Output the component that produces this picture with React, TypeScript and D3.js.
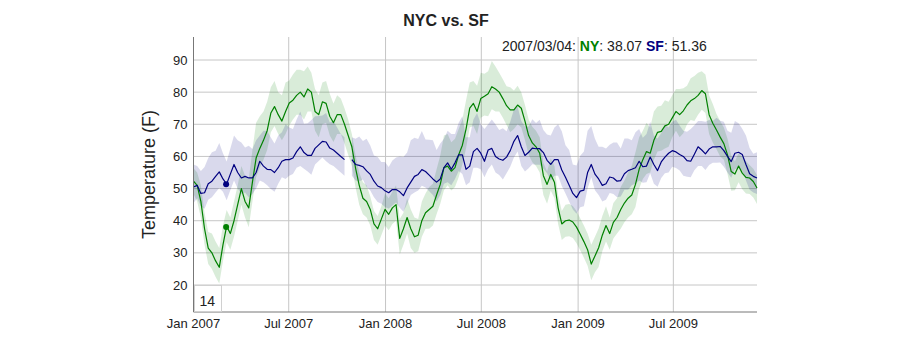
import React from 'react'
import * as d3 from 'd3'

// weekly samples, starting Jan 1 2007
const startDate = new Date(2007, 0, 1)

const nyMean = [
  52.3, 51, 46, 37.5, 31.5, 30, 27.5, 25.5, 32.5, 38.3, 36, 40, 45, 50, 46, 44, 52, 59.5, 62.5, 65, 68, 73.5, 75.5, 73, 71, 74,
  76.6, 77.5, 79, 80, 78.5, 81, 80, 74, 73, 77, 76.5, 72.5, 70.5, 73, 73, 70, 66.5, 63, 56.4, 51, 47, 46, 43.5, 39, 37.5,
  40.5, 43.5, 42, 44, 45, 34.5, 37.5, 41, 37.5, 35, 35.5, 40, 42.5, 43.5, 44.5, 48, 51.3, 56.5, 57, 55.4, 56.5, 60.5, 63.5,
  68.5, 75, 76.5, 74, 78, 78.7, 79.5, 81.7, 81, 80, 78, 75.8, 74.5, 74.5, 76, 75, 71, 66.5, 64.2, 63, 61, 54, 51.3, 54.4, 52,
  44, 39, 40,
  40.2, 39.6, 38, 35.8, 33.5, 31, 26.5, 29, 31.6, 35.5, 38.5, 36, 39.5, 41, 43.5, 45.5, 47, 48, 51.3, 56, 59, 61.5, 61, 65,
  67.5, 67.8, 69.5, 70, 72, 74, 73, 74.2, 76, 77.3, 78, 79, 80.5, 79.5, 73, 70.3, 68.2, 66, 64, 60.5, 55.3, 54.5, 57, 54.8,
  53.5, 53.3, 52.2, 50.2,
]
const nyHigh = [
  4, 4, 5, 5, 5, 6, 6, 6, 6, 5, 5, 6, 6, 7, 8, 9, 10, 11, 10, 9, 9, 8, 8,
  7, 8, 9, 7, 8, 8, 7, 8, 7, 6, 7, 6, 6, 7, 7, 6, 6, 5, 5, 5, 4, 4, 4, 5, 5, 4, 4, 4, 4, 5,
  5, 5, 6, 6, 5, 6, 6, 6, 5, 6, 6, 7, 7, 8, 9, 10, 10, 9, 9, 8, 8, 9,
  8, 7, 8, 8, 7, 7, 8, 7, 6, 6, 6, 7, 6, 6, 5, 5, 5, 5, 5, 5, 4, 4, 5, 5, 4, 4, 5, 5, 5, 5,
  5, 5, 5, 6, 6, 6, 6, 6, 5, 6, 6, 7, 7, 8, 9, 10, 10, 9, 9, 8, 9, 8,
  8, 8, 7, 7, 7, 8, 7, 6, 7, 7, 7, 6, 6, 6, 6, 5, 5, 5, 5, 5, 4, 4, 5, 5, 4, 4, 4,
]
const nyLow = [
  4, 5, 5, 5, 5, 5, 5, 5, 5, 5, 5, 5, 5, 5, 5, 6, 6, 6, 6, 6, 6, 6, 6,
  6, 6, 7, 7, 6, 6, 7, 7, 7, 6, 6, 7, 7, 6, 6, 6, 6, 6, 6, 6, 6, 6, 6, 5, 5, 5, 5, 5, 5, 5,
  5, 5, 5, 5, 5, 5, 6, 5, 5, 5, 5, 6, 6, 6, 6, 7, 6, 6, 6, 7, 6, 6,
  6, 7, 7, 6, 6, 7, 7, 7, 6, 6, 6, 7, 6, 6, 6, 6, 6, 6, 6, 6, 6, 6, 5, 5, 5, 5, 5, 5, 5, 5,
  5, 5, 5, 5, 5, 6, 5, 5, 5, 5, 5, 6, 6, 6, 6, 7, 6, 6, 7, 6, 6, 6,
  6, 7, 7, 6, 6, 7, 7, 6, 6, 7, 6, 6, 6, 6, 6, 6, 6, 5, 6, 6, 5, 5, 5, 5, 5, 5, 5,
]

const sfMean = [
  50.5, 51, 48.5, 48.7, 51.5, 52.3, 53.8, 55.2, 53, 51.4, 54.5, 57.5, 55, 53.3, 53.8, 53.3, 53.3, 55, 58.5, 57, 56, 55.9,
  55, 56.5, 58.5, 59, 59, 59.5, 61.5, 63, 61.2, 60.3, 60.3, 62.5, 63.6, 64.7, 64.5, 62.6, 62, 61, 60, 59, null, 59, 57.5,
  57.2, 56.8, 55.5, 54.4, 52.3, 50.8,
  50.3, 49.3, 48.7, 49.7, 49.7, 49, 47.8, 50.2, 52, 53.8, 54.4, 55.9, 55.3, 54.2, 53, 52, 53, 56.5, 58, 56, 58, 60.5, 60.5,
  56, 57, 61.5, 62.5, 61, 58.5, 62, 62.5, 60, 59.2, 58.8, 59.8, 61.8, 64.7, 66.5, 63, 60.3, 61.3, 62.6, 62.4, 62.4, 61.2,
  58.8, 57.5, 59, 59, 55.8, 53.5,
  51, 48.5, 47.2, 49.2, 49.5, 55, 57.5, 54.5, 53, 51, 51.5, 53.6, 53.3, 52.3, 52.5, 54.6, 55.6, 56, 56.5, 58.5, 56.8, 57,
  59.8, 57.5, 55.6, 58.3, 59.8, 61, 61.8, 61.4, 60.6, 60, 58.7, 58.5, 60.7, 63, 62, 60.8, 62.3, 63, 63, 63.1, 61.8, 60,
  58.4, 61, 61.3, 60.6, 57.5, 54.6, 53.8, 53.3,
]
const sfHigh = [
  7, 6, 7, 8, 8, 9, 8, 9, 8, 7, 8, 9, 10, 11, 9, 10, 9, 10, 8, 11, 12, 10, 9,
  10, 9, 11, 10, 9, 10, 11, 9, 10, 11, 10, 9, 8, 9, 8, 9, 8, 7, 7, 8, 7, 8, 9, 8, 10, 9, 8, 9, 8, 9,
  8, 9, 10, 11, 12, 11, 13, 12, 11, 12, 10, 11, 12, 10, 11, 9, 10, 11, 9, 10, 12, 10,
  9, 10, 11, 9, 10, 8, 9, 10, 9, 10, 8, 9, 10, 9, 8, 9, 8, 9, 8, 9, 7, 8, 9, 10, 11, 12, 10, 11, 9, 10,
  11, 12, 13, 12, 11, 10, 12, 11, 10, 11, 12, 10, 11, 10, 9, 11, 10, 9, 10, 11, 9, 10,
  9, 10, 8, 9, 10, 9, 8, 9, 10, 9, 8, 9, 10, 9, 8, 9, 8, 9, 8, 9, 10, 9, 8, 9, 8, 7, 8,
]
const sfLow = [
  5, 4, 4, 5, 5, 5, 5, 5, 4, 5, 5, 5, 5, 5, 5, 6, 5, 5, 6, 5, 5, 6, 6,
  5, 5, 6, 5, 5, 5, 6, 5, 5, 6, 5, 5, 5, 6, 5, 5, 5, 5, 5, 5, 5, 5, 5, 4, 5, 5, 5, 5, 5, 5,
  5, 5, 4, 5, 5, 5, 4, 5, 5, 5, 5, 5, 5, 6, 5, 5, 6, 5, 5, 5, 6, 5,
  5, 5, 6, 5, 5, 6, 5, 5, 5, 6, 5, 5, 5, 5, 6, 5, 5, 5, 5, 5, 5, 4, 5, 5, 5, 5, 5, 5, 5, 5,
  5, 5, 5, 4, 5, 5, 5, 5, 5, 5, 5, 5, 5, 6, 5, 5, 6, 5, 5, 5, 6, 5,
  5, 5, 6, 5, 5, 5, 6, 5, 5, 5, 6, 5, 5, 5, 5, 5, 5, 5, 5, 5, 5, 5, 5, 5, 5, 5, 5,
]

const yTicks = [20, 30, 40, 50, 60, 70, 80, 90]
const xTickDates = [
  new Date(2007, 0, 1), new Date(2007, 6, 1), new Date(2008, 0, 1),
  new Date(2008, 6, 1), new Date(2009, 0, 1), new Date(2009, 6, 1),
]
const xTickLabels = ['Jan 2007', 'Jul 2007', 'Jan 2008', 'Jul 2008', 'Jan 2009', 'Jul 2009']

const hlDate = new Date(2007, 2, 4)
const hlLabel = '2007/03/04'
const hlNY = 38.07
const hlSF = 51.36
const rollPeriod = 14

const NY_COLOR = '#008000'
const SF_COLOR = '#000080'
const FONT = '"Liberation Sans", Arial, Helvetica, sans-serif'

interface Pt { date: Date; v: number | null; up: number; dn: number }

function build(mean: (number | null)[], up: number[], dn: number[]): Pt[] {
  return mean.map((v, i) => ({
    date: d3.timeDay.offset(startDate, 7 * i),
    v,
    up: up[i] ?? 5,
    dn: dn[i] ?? 5,
  }))
}

export default function App() {
  const W = 900
  const H = 340
  const [top, right, bottom, left] = [37, 143, 312, 193.5]

  const x = d3.scaleTime().domain([startDate, new Date(2009, 11, 7)]).range([left, W - right])
  const y = d3.scaleLinear().domain([11.6, 97.16]).range([bottom, top])

  const ny = build(nyMean, nyHigh, nyLow)
  const sf = build(sfMean, sfHigh, sfLow)

  const band = d3.area<Pt>()
    .defined(d => d.v != null)
    .x(d => x(d.date))
    .y0(d => y((d.v as number) - d.dn))
    .y1(d => y((d.v as number) + d.up))

  const line = d3.line<Pt>()
    .defined(d => d.v != null)
    .x(d => x(d.date))
    .y(d => y(d.v as number))

  return (
    <div style={{ position: 'absolute', left: 0, top: 0 }}>
      <svg width={W} height={H} style={{ display: 'block', background: '#fff', fontFamily: FONT }}>
        {/* grid */}
        {yTicks.map(t => (
          <line key={'gy' + t} x1={left} x2={W - right} y1={y(t)} y2={y(t)} stroke="#c6c6c6" strokeWidth={1} />
        ))}
        {xTickDates.map((d, i) => (
          <line key={'gx' + i} x1={x(d)} x2={x(d)} y1={top} y2={bottom} stroke="#c6c6c6" strokeWidth={1} />
        ))}

        {/* error bands */}
        <path d={band(ny) || ''} fill={NY_COLOR} fillOpacity={0.15} />
        <path d={band(sf) || ''} fill={SF_COLOR} fillOpacity={0.15} />

        {/* lines */}
        <path d={line(ny) || ''} fill="none" stroke={NY_COLOR} strokeWidth={1.2} strokeLinejoin="round" />
        <path d={line(sf) || ''} fill="none" stroke={SF_COLOR} strokeWidth={1.2} strokeLinejoin="round" />

        {/* axes */}
        <line x1={left} x2={left} y1={top} y2={bottom} stroke="#777" strokeWidth={1} />
        <line x1={left} x2={W - right} y1={bottom} y2={bottom} stroke="#777" strokeWidth={1} />

        {yTicks.map(t => (
          <text key={'ty' + t} x={left - 6} y={y(t) + 4.5} textAnchor="end" fontSize={13} fill="#222">{t}</text>
        ))}
        {xTickDates.map((d, i) => (
          <text key={'tx' + i} x={x(d)} y={bottom + 16} textAnchor="middle" fontSize={13} fill="#222">{xTickLabels[i]}</text>
        ))}

        {/* highlight */}
        <circle cx={x(hlDate)} cy={y(hlNY)} r={3} fill={NY_COLOR} />
        <circle cx={x(hlDate)} cy={y(hlSF)} r={3} fill={SF_COLOR} />

        {/* roll period box */}
        <rect x={left + 1} y={285.5} width={27} height={26} fill="#fff" stroke="#d0d0d0" strokeWidth={1} />
        <text x={left + 6} y={306} fontSize={14} fill="#222">{rollPeriod}</text>

        {/* title and labels */}
        <text x={446} y={26} textAnchor="middle" fontSize={16} fontWeight="bold" fill="#222">NYC vs. SF</text>
        <text transform={`translate(155,${(top + bottom) / 2}) rotate(-90)`} textAnchor="middle" fontSize={18} fill="#222">
          Temperature (F)
        </text>

        <text x={502} y={50.5} fontSize={14} fill="#222">
          {hlLabel}: <tspan fill={NY_COLOR} fontWeight="bold">NY</tspan>: {hlNY.toFixed(2)}{' '}
          <tspan fill={SF_COLOR} fontWeight="bold">SF</tspan>: {hlSF.toFixed(2)}
        </text>
      </svg>
    </div>
  )
}
